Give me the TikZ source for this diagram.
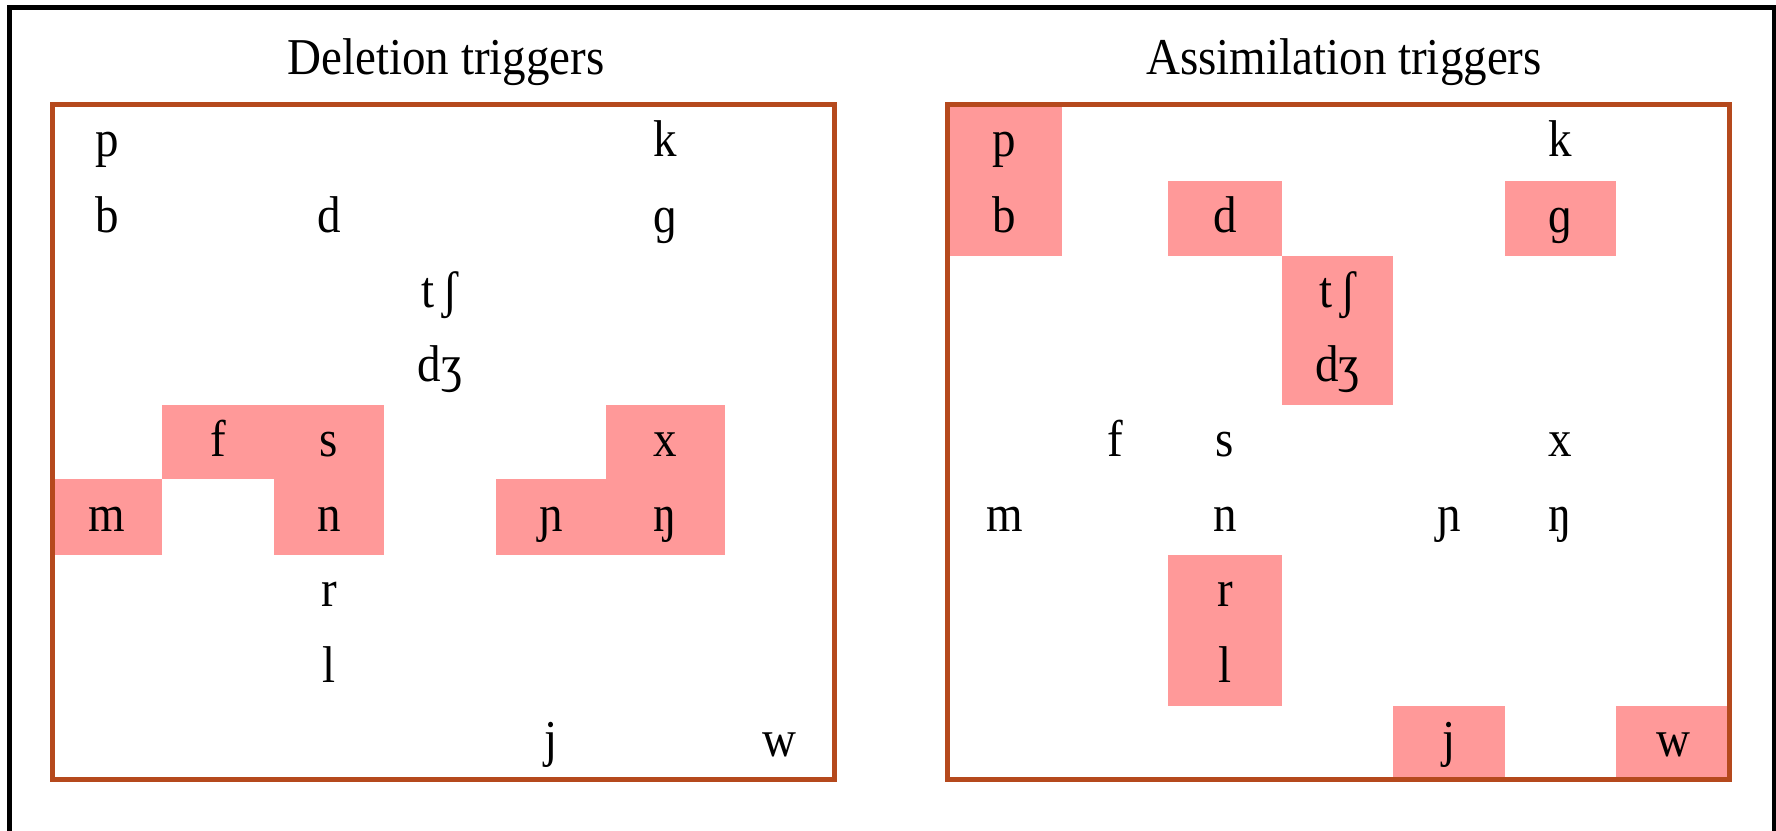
\documentclass[tikz,border=0pt]{standalone}
\usepackage{fontspec}
\setmainfont{Liberation Serif}
\definecolor{cellpink}{RGB}{255,153,153}
\definecolor{boxrust}{RGB}{181,73,29}
\tikzset{
  phon/.style={anchor=base, inner sep=0pt, font=\fontsize{47}{58}\selectfont},
  paneltitle/.style={anchor=base, inner sep=0pt, font=\fontsize{47}{58}\selectfont},
  panelbox/.style={draw=boxrust, line width=5pt},
  hit/.style={fill=cellpink},
  frameline/.style={draw=black, line width=5pt},
}
% slightly tall lettering
\newcommand\tall[1]{\scalebox{1}[1.1]{#1}}
% column and row edges of the two consonant grids
\def\colsL{{52,162,274,384,496,606,725,834}}
\def\colsR{{947,1062,1168,1282,1393,1505,1616,1730}}
\def\rowedges{{104,181,256,330,405,479,555,630,706,779}}
% cell corners: \cellbounds{columns}{col}{row}
\newcommand\cellbounds[3]{%
  \pgfmathsetmacro\xa{#1[#2]}\pgfmathsetmacro\xb{#1[#2+1]}%
  \pgfmathsetmacro\ya{\rowedges[#3]}\pgfmathsetmacro\yb{\rowedges[#3+1]}}
% shaded cell: \hitcell{columns}{col}{row}
\newcommand\hitcell[3]{%
  \cellbounds{#1}{#2}{#3}%
  \fill[hit] (\xa,\ya) rectangle (\xb,\yb);}
% symbol in a cell: \phon{columns}{col}{row}{name}{text}
\newcommand\phon[5]{%
  \cellbounds{#1}{#2}{#3}%
  \pgfmathsetmacro\xc{0.5*\xa+0.5*\xb}%
  \pgfmathsetmacro\yc{0.5*\ya+0.5*\yb+14}%
  \node[phon] (#4) at (\xc,\yc) {\tall{#5}};}
\begin{document}
\begin{tikzpicture}[x=1pt,y=-1pt]
\clip (0,0) rectangle (1776,830);
\fill[white] (0,0) rectangle (1776,830);
\draw[frameline] (9.5,7) rectangle (1774,900);

% titles
\node[paneltitle] (tL) at (446,74) {\tall{Deletion triggers}};
\node[paneltitle] (tR) at (1344,74) {\tall{Assimilation triggers}};

% shaded cells, left grid
\hitcell{\colsL}{1}{4}
\hitcell{\colsL}{2}{4}
\hitcell{\colsL}{5}{4}
\hitcell{\colsL}{0}{5}
\hitcell{\colsL}{2}{5}
\hitcell{\colsL}{4}{5}
\hitcell{\colsL}{5}{5}
% shaded cells, right grid
\hitcell{\colsR}{0}{0}
\hitcell{\colsR}{0}{1}
\hitcell{\colsR}{2}{1}
\hitcell{\colsR}{5}{1}
\hitcell{\colsR}{3}{2}
\hitcell{\colsR}{3}{3}
\hitcell{\colsR}{2}{6}
\hitcell{\colsR}{2}{7}
\hitcell{\colsR}{4}{8}
\hitcell{\colsR}{6}{8}

% panel borders
\draw[panelbox] (52.5,104.5) rectangle (834.5,779.5);
\draw[panelbox] (947.5,104.5) rectangle (1729.5,779.5);

% symbols in both grids
\foreach \g in {L,R}{
  \expandafter\let\expandafter\cols\csname cols\g\endcsname
  \phon{\cols}{0}{0}{\g p}{p}
  \phon{\cols}{5}{0}{\g k}{k}
  \phon{\cols}{0}{1}{\g b}{b}
  \phon{\cols}{2}{1}{\g d}{d}
  \phon{\cols}{5}{1}{\g g}{ɡ}
  \phon{\cols}{3}{2}{\g tsh}{t\,ʃ}
  \phon{\cols}{3}{3}{\g dzh}{dʒ}
  \phon{\cols}{1}{4}{\g f}{f}
  \phon{\cols}{2}{4}{\g s}{s}
  \phon{\cols}{5}{4}{\g x}{x}
  \phon{\cols}{0}{5}{\g m}{m}
  \phon{\cols}{2}{5}{\g n}{n}
  \phon{\cols}{4}{5}{\g nj}{ɲ}
  \phon{\cols}{5}{5}{\g ng}{ŋ}
  \phon{\cols}{2}{6}{\g r}{r}
  \phon{\cols}{2}{7}{\g l}{l}
  \phon{\cols}{4}{8}{\g j}{j}
  \phon{\cols}{6}{8}{\g w}{w}
}
\end{tikzpicture}
\end{document}
